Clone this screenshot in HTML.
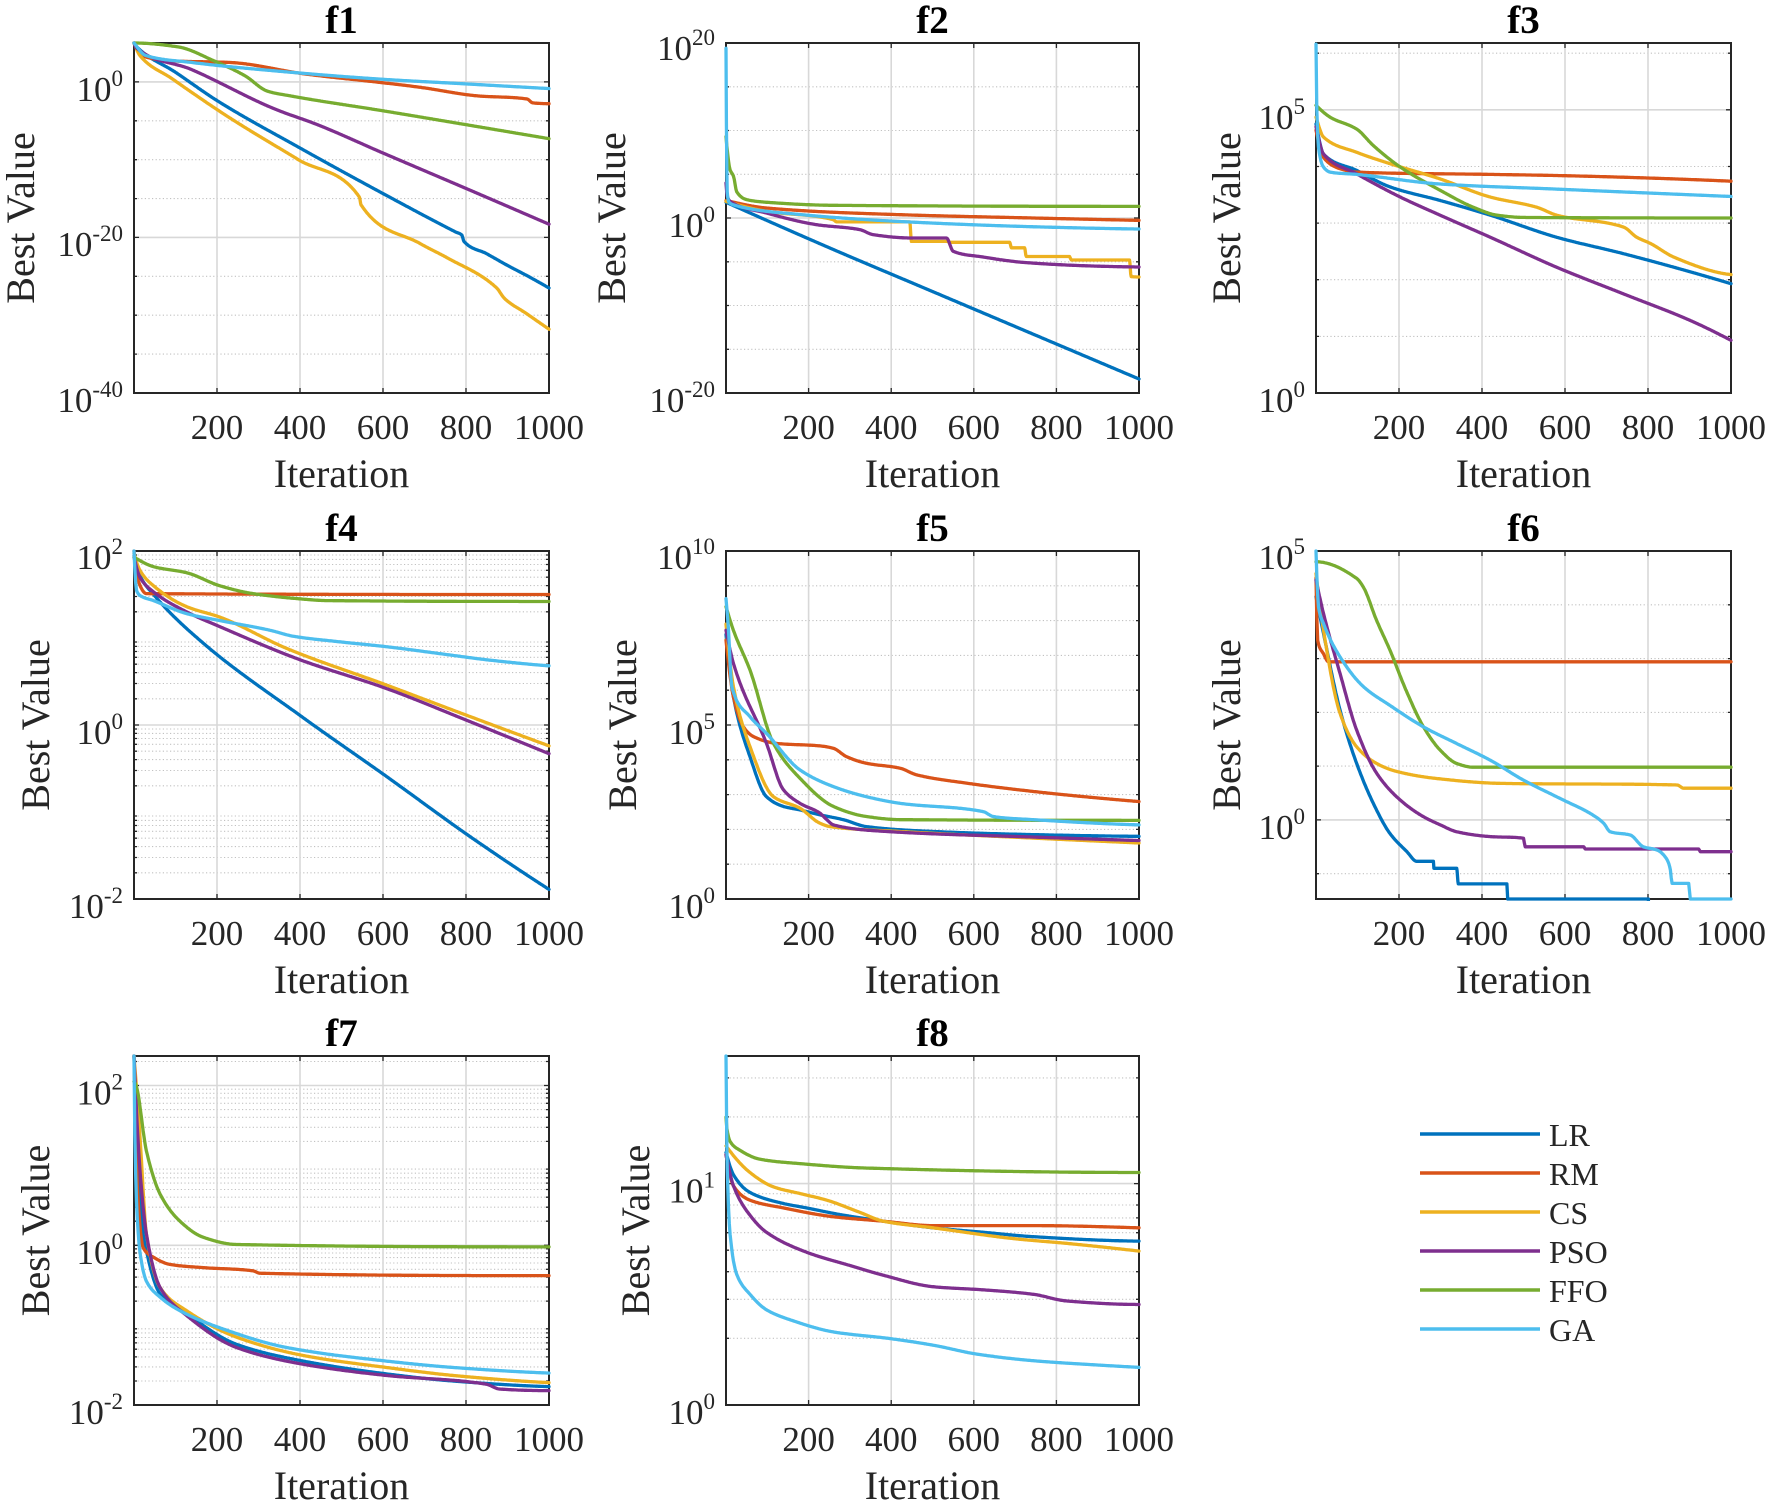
<!DOCTYPE html>
<html><head><meta charset="utf-8">
<style>
html,body{margin:0;padding:0;background:#fff;}
svg{display:block;}
text{font-family:"Liberation Serif","Times New Roman",serif;fill:#262626;}
.tk{font-size:35px;}
.lb{font-size:40px;}
.tt{font-size:39px;font-weight:bold;fill:#000;}
.lg{font-size:32px;fill:#000;}
</style></head>
<body>
<svg id="s" width="1770" height="1505" viewBox="0 0 1770 1505" xmlns="http://www.w3.org/2000/svg">
<rect width="1770" height="1505" fill="#fff"/>
<g id="plots"></g>
<g>
<!-- titles -->
<text class="tt" x="341.5" y="33" text-anchor="middle">f1</text>
<text class="tt" x="932.5" y="33" text-anchor="middle">f2</text>
<text class="tt" x="1523.5" y="33" text-anchor="middle">f3</text>
<text class="tt" x="341.5" y="541" text-anchor="middle">f4</text>
<text class="tt" x="932.5" y="541" text-anchor="middle">f5</text>
<text class="tt" x="1523.5" y="541" text-anchor="middle">f6</text>
<text class="tt" x="341.5" y="1046" text-anchor="middle">f7</text>
<text class="tt" x="932.5" y="1046" text-anchor="middle">f8</text>

<!-- x tick labels -->
<g class="tk" text-anchor="middle">
<text x="217" y="439">200</text><text x="300" y="439">400</text><text x="383" y="439">600</text><text x="466" y="439">800</text><text x="549" y="439">1000</text>
<text x="808.6" y="439">200</text><text x="891.2" y="439">400</text><text x="973.8" y="439">600</text><text x="1056.4" y="439">800</text><text x="1139" y="439">1000</text>
<text x="1399" y="439">200</text><text x="1482" y="439">400</text><text x="1565" y="439">600</text><text x="1648" y="439">800</text><text x="1731" y="439">1000</text>
<text x="217" y="945">200</text><text x="300" y="945">400</text><text x="383" y="945">600</text><text x="466" y="945">800</text><text x="549" y="945">1000</text>
<text x="808.6" y="945">200</text><text x="891.2" y="945">400</text><text x="973.8" y="945">600</text><text x="1056.4" y="945">800</text><text x="1139" y="945">1000</text>
<text x="1399" y="945">200</text><text x="1482" y="945">400</text><text x="1565" y="945">600</text><text x="1648" y="945">800</text><text x="1731" y="945">1000</text>
<text x="217" y="1451">200</text><text x="300" y="1451">400</text><text x="383" y="1451">600</text><text x="466" y="1451">800</text><text x="549" y="1451">1000</text>
<text x="808.6" y="1451">200</text><text x="891.2" y="1451">400</text><text x="973.8" y="1451">600</text><text x="1056.4" y="1451">800</text><text x="1139" y="1451">1000</text>
</g>

<!-- x labels -->
<g class="lb" text-anchor="middle">
<text x="341.5" y="487">Iteration</text>
<text x="932.5" y="487">Iteration</text>
<text x="1523.5" y="487">Iteration</text>
<text x="341.5" y="993">Iteration</text>
<text x="932.5" y="993">Iteration</text>
<text x="1523.5" y="993">Iteration</text>
<text x="341.5" y="1499">Iteration</text>
<text x="932.5" y="1499">Iteration</text>
</g>

<!-- y labels -->
<g class="lb" text-anchor="middle">
<text transform="translate(34,218) rotate(-90)">Best Value</text>
<text transform="translate(625,218) rotate(-90)">Best Value</text>
<text transform="translate(1240,218) rotate(-90)">Best Value</text>
<text transform="translate(49,725) rotate(-90)">Best Value</text>
<text transform="translate(636,725) rotate(-90)">Best Value</text>
<text transform="translate(1240,725) rotate(-90)">Best Value</text>
<text transform="translate(49,1230.5) rotate(-90)">Best Value</text>
<text transform="translate(649,1230.5) rotate(-90)">Best Value</text>
</g>

<!-- y tick labels -->
<g class="tk" text-anchor="end">
<text x="123" y="101">10<tspan dy="-15" font-size="23">0</tspan></text>
<text x="123" y="256">10<tspan dy="-15" font-size="23">-20</tspan></text>
<text x="123" y="412">10<tspan dy="-15" font-size="23">-40</tspan></text>

<text x="715" y="60">10<tspan dy="-15" font-size="23">20</tspan></text>
<text x="715" y="237">10<tspan dy="-15" font-size="23">0</tspan></text>
<text x="715" y="412">10<tspan dy="-15" font-size="23">-20</tspan></text>

<text x="1305" y="129">10<tspan dy="-15" font-size="23">5</tspan></text>
<text x="1305" y="412">10<tspan dy="-15" font-size="23">0</tspan></text>

<text x="123" y="569">10<tspan dy="-15" font-size="23">2</tspan></text>
<text x="123" y="744">10<tspan dy="-15" font-size="23">0</tspan></text>
<text x="123" y="918">10<tspan dy="-15" font-size="23">-2</tspan></text>

<text x="715" y="569">10<tspan dy="-15" font-size="23">10</tspan></text>
<text x="715" y="744">10<tspan dy="-15" font-size="23">5</tspan></text>
<text x="715" y="918">10<tspan dy="-15" font-size="23">0</tspan></text>

<text x="1305" y="569">10<tspan dy="-15" font-size="23">5</tspan></text>
<text x="1305" y="839">10<tspan dy="-15" font-size="23">0</tspan></text>

<text x="123" y="1104.5">10<tspan dy="-15" font-size="23">2</tspan></text>
<text x="123" y="1264">10<tspan dy="-15" font-size="23">0</tspan></text>
<text x="123" y="1424">10<tspan dy="-15" font-size="23">-2</tspan></text>

<text x="715" y="1202.5">10<tspan dy="-15" font-size="23">1</tspan></text>
<text x="715" y="1424">10<tspan dy="-15" font-size="23">0</tspan></text>
</g>

<!-- legend -->
<g stroke-width="3.5" fill="none">
<path d="M1420 1134H1540" stroke="#0072BD"/>
<path d="M1420 1173H1540" stroke="#D95319"/>
<path d="M1420 1212H1540" stroke="#EDB120"/>
<path d="M1420 1251H1540" stroke="#7E2F8E"/>
<path d="M1420 1290H1540" stroke="#77AC30"/>
<path d="M1420 1329H1540" stroke="#4DBEEE"/>
</g>
<g class="lg">
<text x="1549" y="1146">LR</text>
<text x="1549" y="1185">RM</text>
<text x="1549" y="1224">CS</text>
<text x="1549" y="1263">PSO</text>
<text x="1549" y="1302">FFO</text>
<text x="1549" y="1341">GA</text>
</g>
</g>
</svg>
<script>
(function(){
const NS='http://www.w3.org/2000/svg';
const COL={LR:'#0072BD',RM:'#D95319',CS:'#EDB120',PSO:'#7E2F8E',FFO:'#77AC30',GA:'#4DBEEE'};
const ORDER=['LR','RM','CS','PSO','FFO','GA'];
const XL=[134,726,1316],XR=[549,1139,1731],YT=[43,551,1056],YB=[393,899,1405];
function logMinor(a,b){const r=[];for(let k=Math.floor(a)-1;k<=Math.ceil(b);k++){for(let m=2;m<=9;m++){const v=k+Math.log10(m);if(v>a+1e-6&&v<b-1e-6)r.push(v);}}return r;}
const P=[
{c:0,r:0,y0:-40,y1:5,maj:[0,-20],mn:[-35,-30,-25,-15,-10,-5],s:{
LR:[[0,5],[5,4.6],[101,1.2],[200,-2.4],[400,-8.5],[598,-14.3],[775,-19.3],[790,-19.7],[795,-20.5],[850,-22.1],[900,-23.6],[950,-25.0],[1000,-26.5]],
RM:[[0,5],[18,3.4],[92,2.7],[230,2.5],[414,1],[598,-0.1],[690,-0.7],[828,-1.8],[947,-2.2],[961,-2.7],[1000,-2.8]],
CS:[[0,5],[14,3.4],[92,0.4],[230,-4.6],[396,-10],[543,-14.8],[547,-15.8],[690,-20.8],[754,-22.6],[874,-26.5],[892,-27.8],[946,-29.8],[1000,-31.8]],
PSO:[[0,5],[5,4.4],[138,1.6],[340,-3.5],[442,-5.5],[598,-9.1],[800,-13.7],[1000,-18.3]],
FFO:[[0,5],[106,4.5],[193,2.7],[267,0.8],[322,-1.2],[377,-1.8],[598,-3.7],[800,-5.5],[1000,-7.3]],
GA:[[0,5],[28,3.4],[138,2.5],[322,1.5],[598,0.34],[800,-0.26],[1000,-0.86]]}},
{c:1,r:0,y0:-20,y1:20,maj:[0],mn:[-15,-10,-5,5,10,15],s:{
LR:[[0,1.8],[250,-3.4],[500,-8.4],[750,-13.4],[1000,-18.4]],
RM:[[0,2],[98,1.14],[421,0.38],[744,0],[1000,-0.27]],
CS:[[0,1.9],[98,0.76],[260,-0.2],[268,-0.45],[445,-0.45],[449,-2.67],[534,-2.67],[542,-2.78],[687,-2.78],[691,-3.4],[723,-3.4],[727,-4.4],[832,-4.4],[836,-4.8],[977,-4.8],[981,-6.7],[1000,-6.74]],
PSO:[[0,4],[3,2.5],[10,1.9],[98,0.57],[219,-0.76],[324,-1.33],[356,-1.9],[453,-2.29],[534,-2.29],[550,-3.8],[623,-4.46],[719,-5.07],[897,-5.5],[1000,-5.6]],
FFO:[[0,9.3],[10,5.5],[18,4.8],[26,3],[50,2.1],[98,1.8],[260,1.45],[1000,1.33]],
GA:[[0,19.4],[1,11],[3,3],[6,1.9],[18,1.5],[179,0.4],[421,-0.4],[744,-1],[1000,-1.26]]}},
{c:2,r:0,y0:0,y1:6.18,maj:[5],mn:[1,2,3,4,6],s:{
LR:[[0,4.75],[18,4.22],[98,3.93],[178,3.64],[299,3.4],[420,3.14],[580,2.75],[741,2.46],[1000,1.93]],
RM:[[0,4.64],[18,4.16],[58,3.96],[98,3.9],[420,3.86],[580,3.84],[1000,3.74]],
CS:[[0,4.87],[18,4.52],[98,4.25],[178,4.05],[299,3.78],[420,3.46],[532,3.28],[580,3.14],[741,2.93],[773,2.75],[806,2.64],[862,2.4],[1000,2.09]],
PSO:[[0,4.7],[18,4.22],[98,3.87],[203,3.46],[299,3.14],[420,2.75],[580,2.22],[741,1.75],[902,1.28],[1000,0.93]],
FFO:[[0,5.08],[34,4.87],[98,4.66],[138,4.37],[203,3.99],[299,3.58],[379,3.28],[436,3.14],[500,3.1],[1000,3.09]],
GA:[[0,6.16],[2,5.0],[6,4.34],[18,3.99],[34,3.9],[98,3.86],[299,3.69],[580,3.6],[1000,3.47]]}},
{c:0,r:1,y0:-2,y1:2,maj:[0],mn:logMinor(-2,2),s:{
LR:[[0,1.95],[14,1.72],[47,1.5],[167,0.94],[400,0.11],[608,-0.59],[809,-1.28],[1000,-1.89]],
RM:[[0,2],[10,1.66],[30,1.51],[1000,1.5]],
CS:[[0,1.97],[14,1.78],[47,1.6],[127,1.36],[207,1.24],[368,0.88],[608,0.46],[769,0.17],[1000,-0.24]],
PSO:[[0,1.93],[14,1.7],[47,1.53],[127,1.3],[207,1.13],[400,0.75],[608,0.42],[809,0.04],[1000,-0.33]],
FFO:[[0,1.93],[47,1.82],[127,1.75],[207,1.6],[287,1.51],[400,1.45],[464,1.43],[1000,1.42]],
GA:[[0,2],[6,1.55],[14,1.49],[47,1.43],[127,1.28],[207,1.2],[327,1.09],[384,1.02],[488,0.96],[608,0.9],[769,0.8],[849,0.75],[1000,0.68]]}},
{c:1,r:1,y0:0,y1:10,maj:[5],mn:[1,2,3,4,6,7,8,9],s:{
LR:[[0,7.6],[18,5.81],[58,4.09],[98,2.94],[139,2.66],[179,2.56],[227,2.42],[284,2.28],[340,2.08],[502,1.94],[744,1.85],[1000,1.8]],
RM:[[0,7.44],[18,5.81],[42,4.95],[66,4.67],[123,4.47],[227,4.4],[260,4.33],[292,4.09],[340,3.9],[421,3.76],[461,3.57],[582,3.33],[744,3.09],[824,2.99],[1000,2.8]],
CS:[[0,7.9],[18,6.1],[58,4.38],[115,2.94],[179,2.61],[227,2.18],[252,2.08],[421,1.94],[744,1.75],[1000,1.61]],
PSO:[[0,7.72],[18,6.77],[98,4.47],[139,3.14],[179,2.75],[227,2.47],[244,2.28],[260,2.13],[389,1.94],[744,1.78],[1000,1.68]],
FFO:[[0,8.4],[18,7.72],[58,6.58],[115,4.47],[179,3.47],[260,2.66],[340,2.37],[421,2.28],[1000,2.26]],
GA:[[0,8.63],[6,7.72],[14,6.1],[58,5.24],[98,4.76],[179,3.71],[260,3.23],[340,2.94],[421,2.75],[623,2.51],[647,2.37],[744,2.28],[1000,2.13]]}},
{c:2,r:1,y0:-1.47,y1:5,maj:[0],mn:[-1,1,2,3,4],s:{
LR:[[0,4.15],[18,3.47],[58,2.04],[98,1.05],[138,0.31],[178,-0.25],[219,-0.59],[243,-0.77],[283,-0.77],[284,-0.9],[339,-0.9],[343,-1.19],[460,-1.19],[462,-1.47],[801,-1.47],[802,-3],[1000,-3]],
RM:[[0,4.5],[4,3.34],[18,3.09],[30,2.94],[1000,2.94]],
CS:[[0,4.58],[18,3.53],[58,1.98],[98,1.36],[146,1.05],[195,0.9],[291,0.77],[444,0.68],[870,0.65],[886,0.59],[1000,0.59]],
PSO:[[0,4.46],[18,3.84],[58,2.72],[98,1.67],[146,0.87],[203,0.37],[259,0.06],[299,-0.09],[339,-0.22],[420,-0.31],[500,-0.34],[504,-0.5],[645,-0.5],[649,-0.54],[922,-0.54],[926,-0.59],[1000,-0.59]],
FFO:[[0,4.8],[98,4.49],[114,4.33],[146,3.71],[178,3.16],[217,2.41],[259,1.73],[299,1.3],[339,1.05],[379,0.98],[1000,0.98]],
GA:[[0,5],[6,3.96],[18,3.65],[58,3.03],[114,2.48],[178,2.13],[259,1.73],[339,1.42],[420,1.11],[500,0.74],[596,0.37],[661,0.12],[693,-0.06],[709,-0.22],[757,-0.28],[789,-0.5],[822,-0.56],[846,-0.74],[854,-0.93],[858,-1.18],[898,-1.18],[902,-1.47],[1000,-1.47]]}},
{c:0,r:2,y0:-2,y1:2.37,maj:[2,0],mn:logMinor(-2,2.37),s:{
LR:[[0,2.37],[14,0.55],[30,-0.07],[63,-0.61],[127,-0.86],[247,-1.24],[408,-1.45],[608,-1.61],[769,-1.7],[1000,-1.77]],
RM:[[0,2.37],[10,0.55],[22,-0.03],[47,-0.15],[87,-0.24],[167,-0.28],[287,-0.32],[303,-0.35],[1000,-0.38]],
CS:[[0,2.37],[14,1.39],[30,0.14],[63,-0.53],[127,-0.82],[247,-1.15],[408,-1.38],[608,-1.53],[769,-1.63],[1000,-1.72]],
PSO:[[0,2.37],[14,0.97],[30,0.14],[63,-0.53],[127,-0.88],[247,-1.28],[408,-1.49],[608,-1.63],[849,-1.74],[881,-1.8],[1000,-1.82]],
FFO:[[0,2.05],[5,2.0],[30,1.18],[63,0.64],[111,0.3],[167,0.1],[247,0.01],[1000,-0.02]],
GA:[[0,2.37],[2,1.39],[6,0.55],[14,-0.07],[30,-0.45],[63,-0.65],[111,-0.82],[205,-1.03],[368,-1.28],[608,-1.45],[769,-1.53],[1000,-1.6]]}},
{c:1,r:2,y0:0,y1:1.576,maj:[1],mn:logMinor(0,1.576),s:{
LR:[[0,1.14],[18,1.04],[58,0.96],[139,0.91],[195,0.89],[276,0.86],[381,0.83],[502,0.8],[623,0.78],[744,0.76],[1000,0.74]],
RM:[[0,1.13],[18,0.99],[58,0.925],[139,0.89],[260,0.85],[381,0.83],[502,0.81],[744,0.81],[1000,0.8]],
CS:[[0,1.17],[58,1.05],[115,0.985],[179,0.955],[244,0.925],[324,0.87],[381,0.83],[502,0.8],[703,0.75],[824,0.73],[1000,0.695]],
PSO:[[0,1.13],[18,0.99],[58,0.857],[98,0.78],[195,0.69],[300,0.63],[381,0.586],[502,0.534],[623,0.52],[744,0.5],[824,0.47],[1000,0.454]],
FFO:[[0,1.3],[2,1.25],[10,1.19],[34,1.15],[82,1.11],[179,1.09],[340,1.07],[1000,1.05]],
GA:[[0,1.576],[3,1.07],[10,0.77],[26,0.59],[58,0.5],[98,0.43],[163,0.38],[260,0.33],[397,0.3],[502,0.27],[607,0.23],[744,0.2],[905,0.18],[1000,0.17]]}}
];
function endSlope(h0,h1,d0,d1){let m=((2*h0+h1)*d0-h0*d1)/(h0+h1);if(Math.sign(m)!==Math.sign(d0))m=0;else if(Math.sign(d0)!==Math.sign(d1)&&Math.abs(m)>Math.abs(3*d0))m=3*d0;return m;}
function pchip(pts){
 const n=pts.length,x=pts.map(p=>p[0]),y=pts.map(p=>p[1]),h=[],d=[],m=new Array(n);
 for(let i=0;i<n-1;i++){h[i]=x[i+1]-x[i];d[i]=(y[i+1]-y[i])/h[i];}
 if(n<3){m[0]=m[1]=d[0];}
 else{
  for(let i=1;i<n-1;i++){
   if(d[i-1]===0||d[i]===0||(d[i-1]>0)!==(d[i]>0))m[i]=0;
   else{const w1=2*h[i]+h[i-1],w2=h[i]+2*h[i-1];m[i]=(w1+w2)/(w1/d[i-1]+w2/d[i]);}
  }
  m[0]=endSlope(h[0],h[1],d[0],d[1]);m[n-1]=endSlope(h[n-2],h[n-3],d[n-2],d[n-3]);
 }
 return t=>{let i=0;while(i<n-2&&t>x[i+1])i++;const s=(t-x[i])/h[i],s2=s*s,s3=s2*s;
  return (2*s3-3*s2+1)*y[i]+(s3-2*s2+s)*h[i]*m[i]+(-2*s3+3*s2)*y[i+1]+(s3-s2)*h[i]*m[i+1];};
}
const root=document.getElementById('plots');
function el(tag,attrs,parent){const e=document.createElementNS(NS,tag);for(const k in attrs)e.setAttribute(k,attrs[k]);parent.appendChild(e);return e;}
P.forEach((p,i)=>{
 const L=XL[p.c],R=XR[p.c],T=YT[p.r],B=YB[p.r];
 const X=v=>L+v/1000*(R-L),Y=v=>B-(v-p.y0)/(p.y1-p.y0)*(B-T);
 const grp=el('g',{},root);
 let d='';
 p.mn.forEach(v=>{const y=Y(v).toFixed(1);d+='M'+L+' '+y+'H'+R;});
 el('path',{d:d,stroke:'#c2c2c2','stroke-width':1.1,'stroke-dasharray':'1.2 2.4',fill:'none'},grp);
 d='';
 [200,400,600,800].forEach(v=>{const x=X(v).toFixed(1);d+='M'+x+' '+T+'V'+B;});
 p.maj.forEach(v=>{const y=Y(v).toFixed(1);d+='M'+L+' '+y+'H'+R;});
 el('path',{d:d,stroke:'#d8d8d8','stroke-width':1.6,fill:'none'},grp);
 d='';
 [200,400,600,800].forEach(v=>{const x=X(v).toFixed(1);d+='M'+x+' '+B+'v-5M'+x+' '+T+'v5';});
 p.maj.forEach(v=>{const y=Y(v).toFixed(1);d+='M'+L+' '+y+'h5M'+R+' '+y+'h-5';});
 p.mn.forEach(v=>{const y=Y(v).toFixed(1);d+='M'+L+' '+y+'h3M'+R+' '+y+'h-3';});
 el('path',{d:d,stroke:'#262626','stroke-width':1.3,fill:'none'},grp);
 el('rect',{x:L,y:T,width:R-L,height:B-T,fill:'none',stroke:'#262626','stroke-width':2},grp);
 const cp=el('clipPath',{id:'cp'+i},grp);
 el('rect',{x:L-2,y:T-2,width:R-L+4,height:B-T+4},cp);
 const lg=el('g',{'clip-path':'url(#cp'+i+')'},grp);
 ORDER.forEach(k=>{
  const pts=p.s[k];const f=pchip(pts);
  const set=new Set();for(let t=0;t<=1000;t+=2)set.add(t);pts.forEach(q=>set.add(q[0]));
  const arr=[...set].sort((a,b)=>a-b);
  const dd='M'+arr.map(t=>X(t).toFixed(1)+' '+Y(f(t)).toFixed(1)).join('L');
  el('path',{d:dd,stroke:COL[k],'stroke-width':3.3,fill:'none','stroke-linejoin':'round','stroke-linecap':'round'},lg);
 });
});
})();
</script>
</body></html>
